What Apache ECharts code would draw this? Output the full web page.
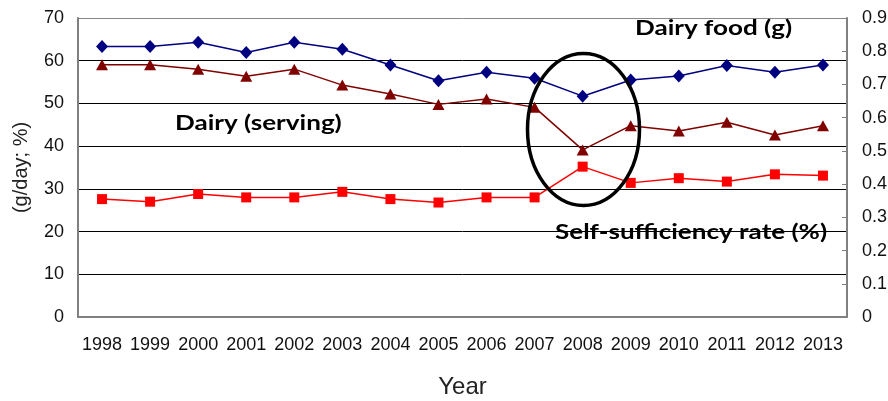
<!DOCTYPE html>
<html>
<head>
<meta charset="utf-8">
<script src="https://cdn.jsdelivr.net/npm/echarts@6/dist/echarts.min.js"></script>
<style>html,body{margin:0;padding:0;background:#fff;}#c{width:888px;height:401px;}</style>
</head>
<body>
<div id="c"></div>
<script>
const years = ['1998','1999','2000','2001','2002','2003','2004','2005','2006','2007','2008','2009','2010','2011','2012','2013'];
const dairyFood = [63.3, 63.3, 64.3, 61.9, 64.3, 62.7, 59.0, 55.3, 57.3, 55.9, 51.7, 55.5, 56.4, 58.9, 57.3, 59.0];
const dairyServing = [0.759, 0.759, 0.746, 0.725, 0.746, 0.698, 0.671, 0.640, 0.656, 0.631, 0.503, 0.576, 0.560, 0.586, 0.548, 0.576];
const selfSufficiency = [27.6, 27.0, 28.8, 28.0, 28.0, 29.3, 27.6, 26.8, 28.0, 28.0, 35.2, 31.4, 32.5, 31.7, 33.4, 33.1];
const leftTicks = [0, 70, 10];
const rightTicks = [0, 0.9, 0.1];

const chart = echarts.init(document.getElementById('c'));
const font = 'Liberation Sans, Arial, sans-serif';
const annFont = 'bold 21px Lato, sans-serif';
chart.setOption({
  animation: false,
  backgroundColor: '#fff',
  grid: { left: 78, right: 41, top: 18, bottom: 84, outerBoundsMode: 'none', containLabel: false },
  xAxis: {
    type: 'category', data: years, boundaryGap: true,
    name: 'Year', nameLocation: 'middle', nameGap: 58,
    nameTextStyle: { fontFamily: font, fontSize: 24, color: '#222' },
    axisLine: { lineStyle: { color: '#808080', width: 2 } },
    axisTick: { inside: true, length: 5, lineStyle: { color: '#808080' } },
    axisLabel: { fontFamily: font, fontSize: 18, color: '#111', margin: 19, interval: 0 }
  },
  yAxis: [{
    type: 'value', min: leftTicks[0], max: leftTicks[1], interval: leftTicks[2],
    name: '(g/day; %)', nameLocation: 'middle', nameGap: 47, nameRotate: 90,
    nameTextStyle: { fontFamily: font, fontSize: 20, color: '#222' },
    axisLine: { show: true, lineStyle: { color: '#808080', width: 2 } },
    axisTick: { show: false },
    axisLabel: { fontFamily: font, fontSize: 18, color: '#111', margin: 14 },
    splitLine: { lineStyle: { color: ['#000','#000','#000','#000','#000','#000','#000','#888'], width: 1 } }
  }, {
    type: 'value', min: rightTicks[0], max: rightTicks[1], interval: rightTicks[2],
    position: 'right',
    axisLine: { show: true, lineStyle: { color: '#808080', width: 2 } },
    axisTick: { show: true, inside: true, length: 5, lineStyle: { color: '#808080' } },
    axisLabel: { fontFamily: font, fontSize: 18, color: '#111', margin: 15,
      formatter: v => v === 0 ? '0' : v.toFixed(1) },
    splitLine: { show: false }
  }],
  series: [{
    name: 'Dairy food (g)', type: 'line', data: dairyFood, yAxisIndex: 0,
    symbol: 'diamond', symbolSize: [12, 13],
    itemStyle: { color: '#000080' }, lineStyle: { color: '#000080', width: 1.5 }
  }, {
    name: 'Dairy (serving)', type: 'line', data: dairyServing, yAxisIndex: 1,
    symbol: 'triangle', symbolSize: [12, 11],
    itemStyle: { color: '#800000' }, lineStyle: { color: '#800000', width: 1.5 }
  }, {
    name: 'Self-sufficiency rate (%)', type: 'line', data: selfSufficiency, yAxisIndex: 0,
    symbol: 'rect', symbolSize: 10,
    itemStyle: { color: '#ff0000' }, lineStyle: { color: '#ff0000', width: 1.5 }
  }],
  graphic: [
    { type: 'ellipse', shape: { cx: 583.5, cy: 129.5, rx: 56, ry: 76 }, z: 100,
      style: { fill: 'none', stroke: '#000', lineWidth: 3.5 } },
    { type: 'text', x: 635, y: 28, scaleX: 1.24, z: 100, style: { text: 'Dairy food (g)', font: annFont, fill: '#000', textVerticalAlign: 'middle' } },
    { type: 'text', x: 175, y: 123, scaleX: 1.24, z: 100, style: { text: 'Dairy (serving)', font: annFont, fill: '#000', textVerticalAlign: 'middle' } },
    { type: 'text', x: 555, y: 232, scaleX: 1.24, z: 100, style: { text: 'Self-sufficiency rate (%)', font: annFont, fill: '#000', textVerticalAlign: 'middle' } }
  ]
});
</script>
</body>
</html>
